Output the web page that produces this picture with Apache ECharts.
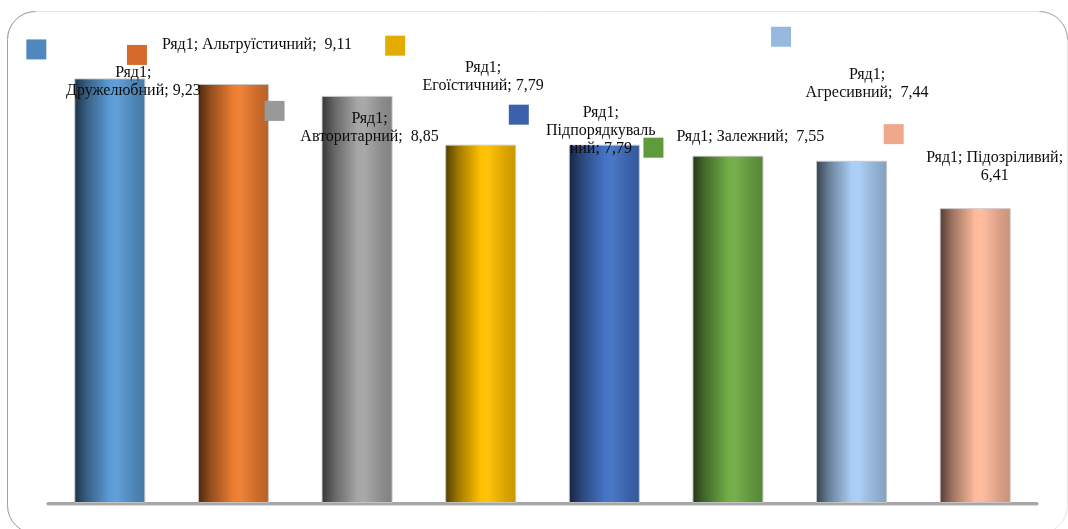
<!DOCTYPE html>
<html>
<head>
<meta charset="utf-8">
<script src="https://cdn.jsdelivr.net/npm/echarts@6/dist/echarts.min.js"></script>
<style>html,body{margin:0;padding:0;background:#fff}#c{width:1068px;height:529px}</style>
</head>
<body>
<div id="c"></div>
<script>
// ---- data ----
const seriesName = 'Ряд1';
const categories = ['Дружелюбний','Альтруїстичний','Авторитарний','Егоїстичний','Підпорядкувальний','Залежний','Агресивний','Підозріливий'];
const values = [9.23, 9.11, 8.85, 7.79, 7.79, 7.55, 7.44, 6.41];

// ---- styles / layout ----
const barColors = ['#5B9BD5','#ED7D31','#A5A5A5','#FFC000','#4472C4','#70AD47','#A9CDF5','#FFBA9C'];
const markerColors = ['#4F88BF','#D56B2A','#999999','#E2AC00','#3A62AC','#5F9A3C','#97B9E0','#F0A88A'];
// label templates: {s}=series, {n}=name, {v}=value
const templates = ['{s};\n{n}; {v}','{s}; {n};  {v}','{s};\n{n};  {v}','{s};\n{n}; {v}','{s};\n{n}; {v}','{s}; {n};  {v}','{s};\n{n};  {v}','{s}; {n};\n{v}'];
const nameBreak = [0,0,0,0,14,0,0,0];
// text offsets relative to bar top-left (center x, block top y)
const textOff = [[59,-15],[59,-48],[48,14],[38,-86],[32,-41],[58,-28],[51,-95],[55,-59]];
// marker offsets relative to bar top-left
const markOff = [[-48,-39],[-71,-39],[-57,5],[-60,-109],[-60,-40],[-49,-18],[-45,-134],[-56,-84]];

function shade(hex, f) {
  const n = parseInt(hex.slice(1), 16);
  let r = (n >> 16) & 255, g = (n >> 8) & 255, b = n & 255;
  const adj = c => Math.max(0, Math.min(255, Math.round(f <= 1 ? c * f : c + (255 - c) * (f - 1))));
  return 'rgb(' + adj(r) + ',' + adj(g) + ',' + adj(b) + ')';
}
function grad(c) {
  return new echarts.graphic.LinearGradient(0, 0, 1, 0, [
    {offset: 0, color: shade(c, 0.32)},
    {offset: 0.18, color: shade(c, 0.62)},
    {offset: 0.5, color: shade(c, 1.0)},
    {offset: 0.6, color: shade(c, 1.04)},
    {offset: 0.85, color: shade(c, 0.85)},
    {offset: 1, color: shade(c, 0.78)}
  ]);
}
function fmtVal(v) { return v.toFixed(2).replace('.', ','); }
function labelText(i) {
  let n = categories[i];
  if (nameBreak[i]) n = n.slice(0, nameBreak[i]) + '\n' + n.slice(nameBreak[i]);
  return templates[i].replace('{s}', seriesName).replace('{n}', n).replace('{v}', fmtVal(values[i]));
}

const barData = values.map((v, i) => ({
  value: v,
  itemStyle: {color: grad(barColors[i]), borderColor: 'rgba(200,200,200,0.9)', borderWidth: 1},
  label: {
    show: true,
    position: textOff[i],
    align: 'center',
    verticalAlign: 'top',
    formatter: () => labelText(i)
  }
}));
const markData = values.map((v, i) => ({
  value: v,
  label: {
    show: true,
    position: markOff[i],
    align: 'left',
    verticalAlign: 'top',
    formatter: '{m| }',
    rich: {m: {width: 20, height: 20, lineHeight: 20, backgroundColor: markerColors[i]}}
  }
}));

const fx = 7.5, fy = 11.5, fw = 1060, fh = 522, fr = 28;
const chart = echarts.init(document.getElementById('c'), null, {renderer: 'canvas'});
chart.setOption({
  animation: false,
  backgroundColor: '#fff',
  graphic: [
    {type: 'rect', z: -10, shape: {x: fx, y: fy, width: fw, height: fh, r: fr},
     style: {fill: 'none', stroke: '#e4e4e4', lineWidth: 1}},
    {type: 'arc', z: -9, shape: {cx: fx + fr, cy: fy + fr, r: fr, startAngle: Math.PI, endAngle: Math.PI * 1.5},
     style: {fill: 'none', stroke: '#9a9a9a', lineWidth: 1}},
    {type: 'arc', z: -9, shape: {cx: fx + fw - fr, cy: fy + fr, r: fr, startAngle: Math.PI * 1.5, endAngle: Math.PI * 2},
     style: {fill: 'none', stroke: '#a8a8a8', lineWidth: 1}},
    {type: 'line', z: -9, shape: {x1: fx, y1: fy + fr, x2: fx, y2: fy + fh - fr},
     style: {stroke: '#a0a0a0', lineWidth: 1}},
    {type: 'arc', z: -9, shape: {cx: fx + fr, cy: fy + fh - fr, r: fr, startAngle: Math.PI * 0.5, endAngle: Math.PI},
     style: {fill: 'none', stroke: '#a0a0a0', lineWidth: 1}}
  ],
  grid: {left: 48, right: 31, top: 43, bottom: 26},
  xAxis: {
    type: 'category', data: categories,
    axisLine: {show: true, lineStyle: {color: '#a6a6a6', width: 3, shadowColor: 'rgba(0,0,0,0.15)', shadowOffsetY: 1, shadowBlur: 1}},
    axisTick: {show: false}, axisLabel: {show: false}, splitLine: {show: false}
  },
  yAxis: {type: 'value', min: 0, max: 10, show: false, splitLine: {show: false}},
  textStyle: {fontFamily: 'Liberation Serif', fontSize: 16, color: '#111'},
  series: [
    {
      type: 'bar', name: seriesName, data: barData, barWidth: 71, z: 2,
      label: {fontFamily: 'Liberation Serif', fontSize: 16, lineHeight: 18, color: '#0d0d0d'}
    },
    {
      type: 'bar', name: 'm', data: markData, barWidth: 71, barGap: '-100%', z: 3, silent: true,
      itemStyle: {color: 'rgba(0,0,0,0)'}
    }
  ]
});
</script>
</body>
</html>
